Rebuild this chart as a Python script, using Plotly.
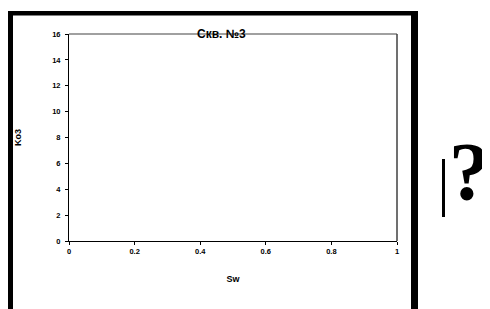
import plotly.graph_objects as go

# Chart data (the reference chart shows an empty plot area)
title_text = "Скв. №3"
x_title = "Sw"
y_title = "Ko3"
sw_values = []
ko3_values = []
x_tick_values = [0, 0.2, 0.4, 0.6, 0.8, 1]
x_tick_labels = ["0", "0.2", "0.4", "0.6", "0.8", "1"]
y_tick_values = [0, 2, 4, 6, 8, 10, 12, 14, 16]
y_tick_labels = ["0", "2", "4", "6", "8", "10", "12", "14", "16"]

OFF = 8  # page body margin
W, H = 490 - OFF, 309 - OFF
L, R, T, B = 69 - OFF, 397 - OFF, 34 - OFF, 241 - OFF  # plot area in figure pixels


def px(x):
    # x given in page pixels
    return (x - OFF - L) / (R - L)


def py(y):
    return (B - (y - OFF)) / (B - T)


fig = go.Figure()
fig.add_trace(go.Scatter(x=sw_values, y=ko3_values, mode="markers",
                         marker=dict(color="black", size=5), showlegend=False))

tickfont = dict(family="Liberation Sans", size=7.5, color="black", weight="bold")
titlefont = dict(family="Liberation Sans", size=9, color="black", weight="bold")

fig.update_layout(
    width=W, height=H,
    margin=dict(l=L, r=W - R, t=T, b=H - B, pad=0, autoexpand=False),
    paper_bgcolor="white", plot_bgcolor="white",
    showlegend=False,
    xaxis=dict(range=[0, 1], tickvals=x_tick_values, ticktext=x_tick_labels,
               showgrid=False, zeroline=False, showline=True, linecolor="black",
               linewidth=1, ticks="outside", ticklen=3, tickcolor="black",
               tickfont=tickfont, automargin=False,
               title=dict(text=x_title, standoff=20, font=titlefont)),
    yaxis=dict(range=[0, 16], tickvals=y_tick_values, ticktext=y_tick_labels,
               showgrid=False, zeroline=False, showline=True, linecolor="black",
               linewidth=1, ticks="outside", ticklen=3, tickcolor="black",
               tickfont=tickfont, ticklabelstandoff=3, automargin=False,
               title=dict(text=y_title, standoff=29, font=titlefont)),
)

shapes = []
# plot area top/right border (grey)
shapes.append(dict(type="line", xref="paper", yref="paper", x0=0, x1=1, y0=1, y1=1,
                   line=dict(color="#808080", width=1.5)))
shapes.append(dict(type="line", xref="paper", yref="paper", x0=1, x1=1, y0=0, y1=1,
                   line=dict(color="#404040", width=1.5)))
# outer black frame (page pixels)
frame = [
    (5, 11, 13, 309),     # left bar
    (5, 11, 418, 15),     # top bar
    (411, 11, 418, 309),  # right bar
]
for x0, y0, x1, y1 in frame:
    shapes.append(dict(type="rect", xref="paper", yref="paper",
                       x0=px(x0), x1=px(x1), y0=py(y0), y1=py(y1),
                       fillcolor="black", line=dict(width=0), layer="above"))
shapes.append(dict(type="line", xref="paper", yref="paper",
                   x0=px(13), x1=px(411), y0=py(15.5), y1=py(15.5),
                   line=dict(color="#808080", width=1)))
# cursor bar next to the question mark
shapes.append(dict(type="rect", xref="paper", yref="paper",
                   x0=px(442), x1=px(445), y0=py(159), y1=py(217),
                   fillcolor="black", line=dict(width=0)))
fig.update_layout(shapes=shapes)

fig.add_annotation(text=f"<b>{title_text}</b>", xref="paper", yref="paper",
                   x=px(221), y=py(34), showarrow=False, xanchor="center", yanchor="middle",
                   font=dict(family="Liberation Sans", size=12, color="black"))
fig.add_annotation(text="?", xref="paper", yref="paper",
                   x=px(469), y=py(171), showarrow=False, xanchor="center", yanchor="middle",
                   borderpad=0,
                   font=dict(family="Liberation Serif", size=82, color="black", weight="bold"))

fig.write_html("out.html")
